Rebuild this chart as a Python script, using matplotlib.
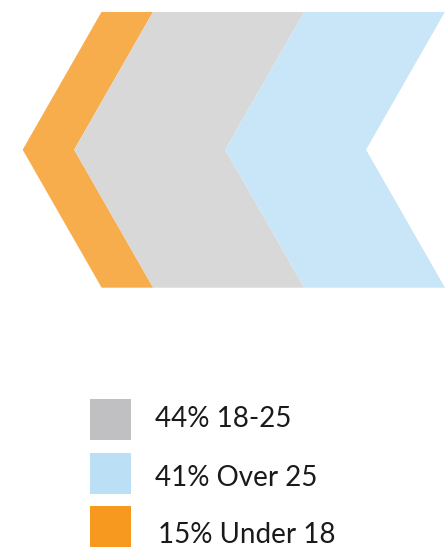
import matplotlib
matplotlib.use("Agg")
import matplotlib.pyplot as plt
from matplotlib.patches import Polygon, Rectangle

# donnees
groupes = ["Under 18", "18-25", "Over 25"]
parts = [15, 44, 41]
couleurs_chevron = ["#F8AD4C", "#D8D8D8", "#C8E6F7"]

# legende (ordre de l'image)
legende_labels = ["44% 18-25", "41% Over 25", "15% Under 18"]
legende_couleurs = ["#C0C0C2", "#BBE0F6", "#F7981F"]

W, H = 445, 548
fig = plt.figure(figsize=(W / 100, H / 100), dpi=100)

# zone des chevrons
ax = fig.add_axes([0, 1 - 287.7 / H, 1, 276 / H])
ax.set_xlim(-29.6, 100)
ax.set_ylim(0, 1)
ax.axis("off")

pointe = 23  # profondeur de la pointe, en %
debut = 0
for p, c in zip(parts, couleurs_chevron):
    fin = debut + p
    pts = [(debut, 1), (fin, 1), (fin - pointe, 0.5), (fin, 0),
           (debut, 0), (debut - pointe, 0.5)]
    ax.add_patch(Polygon(pts, closed=True, facecolor=c, edgecolor="none"))
    debut = fin

# legende faite a la main
bas_carres = [399, 452.7, 506]
bases_texte = [427, 486.5, 543]
for lab, c, yc, yt in zip(legende_labels, legende_couleurs, bas_carres, bases_texte):
    fig.add_artist(Rectangle((90 / W, 1 - (yc + 41) / H), 41 / W, 41 / H,
                             transform=fig.transFigure, facecolor=c, edgecolor="none"))
    x = 155 if lab[:2] != "15" else 158
    fig.text(x / W, 1 - yt / H, lab, fontsize=20, family="Lato",
             color="#1a1a1a", va="baseline", ha="left")

fig.savefig("out.png", dpi=100)
